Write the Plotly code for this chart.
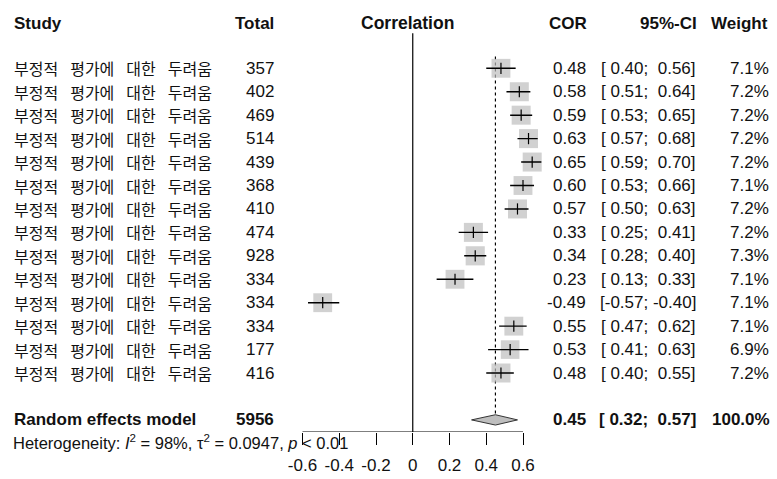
import plotly.graph_objects as go

# ---- data ----
studies = ["부정적 평가에 대한 두려움"] * 14
totals = [357, 402, 469, 514, 439, 368, 410, 474, 928, 334, 334, 334, 177, 416]
cor = [0.48, 0.58, 0.59, 0.63, 0.65, 0.60, 0.57, 0.33, 0.34, 0.23, -0.49, 0.55, 0.53, 0.48]
ci_lo = [0.40, 0.51, 0.53, 0.57, 0.59, 0.53, 0.50, 0.25, 0.28, 0.13, -0.57, 0.47, 0.41, 0.40]
ci_hi = [0.56, 0.64, 0.65, 0.68, 0.70, 0.66, 0.63, 0.41, 0.40, 0.33, -0.40, 0.62, 0.63, 0.55]
weights = [7.1, 7.2, 7.2, 7.2, 7.2, 7.1, 7.2, 7.2, 7.3, 7.1, 7.1, 7.1, 6.9, 7.2]

pooled_label = "Random effects model"
pooled_total = 5956
pooled_cor, pooled_lo, pooled_hi = 0.45, 0.32, 0.57
pooled_weight = 100.0
heterogeneity = "Heterogeneity: <i>I</i><sup>2</sup> = 98%, τ<sup>2</sup> = 0.0947, <i>p</i> < 0.01"

x_ticks = [-0.6, -0.4, -0.2, 0, 0.2, 0.4, 0.6]
headers = {"study": "Study", "total": "Total", "effect": "Correlation",
           "cor": "COR", "ci": "95%-CI", "weight": "Weight"}

# ---- layout constants ----
W, H = 777, 479
rows = list(range(1, len(cor) + 1))
pooled_row = 16
header_row = -0.93
NB = "\u00a0"
WORD_GAP = "\u2002\u2005"
TXT = "Liberation Sans, Arial, sans-serif"
KR = "Noto Sans CJK KR, sans-serif"
GREY = "#bebebe"
INK = "#111111"

# map row index to pixels: row 1 at y=68.3, 23.44 px per row, axis line at y=432
row0, step, axis_px = 68.3, 23.44, 432
y_top = 1 - row0 / step
y_bot = 1 + (axis_px - row0) / step

# horizontal scale: 0 at x=412.75 px, 183.75 px per unit
X0_PX, X_SCALE = 412.75, 183.75
X_RANGE = [-0.7, 0.8]


def px(p):
    return p / W


def fmt(v):
    s = f"{v:.2f}"
    return s if v < 0 else NB + s


def ci_text(lo, hi):
    return f"[{fmt(lo)};{NB}{fmt(hi)}]"


fig = go.Figure()

# study squares (area proportional to weight)
sizes = [19 * (w / 7.2) ** 0.5 for w in weights]
fig.add_trace(go.Scatter(
    x=cor, y=rows, mode="markers",
    marker=dict(symbol="square", size=sizes, color=GREY, line=dict(width=0)),
    cliponaxis=False, hoverinfo="skip", showlegend=False))

# confidence-interval whiskers
cx, cy = [], []
for r, lo, hi in zip(rows, ci_lo, ci_hi):
    cx += [lo, hi, None]
    cy += [r, r, None]
fig.add_trace(go.Scatter(
    x=cx, y=cy, mode="lines", line=dict(color="black", width=1.4),
    cliponaxis=False, hoverinfo="skip", showlegend=False))

# point-estimate ticks
fig.add_trace(go.Scatter(
    x=cor, y=rows, mode="markers",
    marker=dict(symbol="line-ns", size=8, line=dict(color="black", width=1.2)),
    cliponaxis=False, hoverinfo="skip", showlegend=False))

# pooled-estimate dotted reference line
fig.add_shape(type="line", xref="x", yref="y", x0=pooled_cor, x1=pooled_cor,
              y0=0.5, y1=pooled_row, line=dict(color="black", width=1.2, dash="dot"),
              layer="below")
# line of no effect
fig.add_shape(type="line", xref="x", yref="y", x0=0, x1=0,
              y0=-0.5, y1=y_bot, line=dict(color="black", width=1.2), layer="below")
# effect axis line, spanning the tick range only
fig.add_shape(type="line", xref="x", yref="y", x0=x_ticks[0], x1=x_ticks[-1],
              y0=y_bot, y1=y_bot, line=dict(color="black", width=1.2))

# pooled diamond
dh = 0.22
fig.add_trace(go.Scatter(
    x=[pooled_lo, pooled_cor, pooled_hi, pooled_cor, pooled_lo],
    y=[pooled_row, pooled_row - dh, pooled_row, pooled_row + dh, pooled_row],
    mode="lines", fill="toself", fillcolor=GREY,
    line=dict(color="#333333", width=1), cliponaxis=False,
    hoverinfo="skip", showlegend=False))

ann = []


def add(text, x, y, anchor, size=17, family=TXT, bold=False, yref="y"):
    if bold:
        text = f"<b>{text}</b>"
    ann.append(dict(text=text, x=px(x), y=y, xref="paper", yref=yref,
                    xanchor=anchor, yanchor="middle", showarrow=False, align="left",
                    font=dict(size=size, family=family, color=INK)))


# headers
add(headers["study"], 12, header_row, "left", bold=True)
add(headers["total"], 276, header_row, "right", bold=True)
add(headers["effect"], 407, header_row, "center", size=17.5, bold=True)
add(headers["cor"], 589, header_row, "right", bold=True)
add(headers["ci"], 699, header_row, "right", bold=True)
add(headers["weight"], 770, header_row, "right", bold=True)

# study rows
for r, s, n, c, lo, hi, w in zip(rows, studies, totals, cor, ci_lo, ci_hi, weights):
    add(s.replace(" ", WORD_GAP), 12, r, "left", size=16, family=KR)
    add(str(n), 276, r, "right")
    add(f"{c:.2f}", 588, r, "right")
    add(ci_text(lo, hi), 698, r, "right")
    add(f"{w:.1f}%", 771, r, "right")

# pooled row
add(pooled_label, 12, pooled_row, "left", bold=True)
add(str(pooled_total), 276, pooled_row, "right", bold=True)
add(f"{pooled_cor:.2f}", 588, pooled_row, "right", bold=True)
add(ci_text(pooled_lo, pooled_hi), 698, pooled_row, "right", bold=True)
add(f"{pooled_weight:.1f}%", 772, pooled_row, "right", bold=True)

add(heterogeneity, 11, (H - 442) / H, "left", size=16.5, yref="paper")

fig.update_layout(
    width=W, height=H,
    margin=dict(l=0, r=0, t=0, b=0),
    paper_bgcolor="white", plot_bgcolor="white",
    showlegend=False,
    annotations=ann,
    xaxis=dict(domain=[px(X0_PX + X_RANGE[0] * X_SCALE), px(X0_PX + X_RANGE[1] * X_SCALE)],
               range=X_RANGE,
               tickvals=x_ticks, ticktext=[f"{t:g}" for t in x_ticks],
               ticks="outside", ticklen=12, tickwidth=1.2, tickcolor="black",
               ticklabelstandoff=6,
               showline=False, showgrid=False, zeroline=False, fixedrange=True,
               tickfont=dict(size=17, family=TXT, color=INK)),
    yaxis=dict(domain=[(H - axis_px) / H, 1], range=[y_bot, y_top],
               visible=False, showgrid=False, zeroline=False, fixedrange=True),
)

fig.write_html("out.html")
